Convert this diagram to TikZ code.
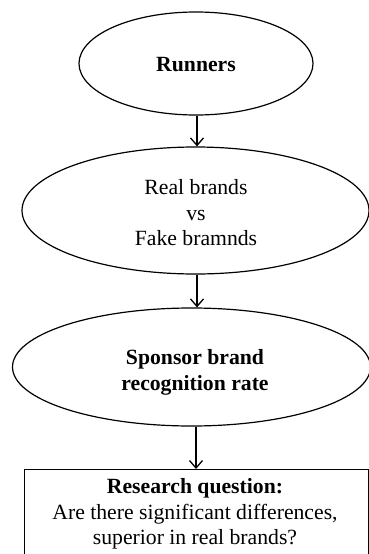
\documentclass[tikz,border=0pt]{standalone}
\usepackage{fontspec}
\setmainfont{Liberation Serif}
\usetikzlibrary{shapes.geometric,arrows.meta}
\begin{document}
\begin{tikzpicture}[x=1pt,y=-1pt,
  oval/.style={ellipse,draw,line width=1.2pt,inner sep=0pt},
  lbl/.style={align=center,font=\fontsize{21.7}{25.5}\selectfont,inner sep=0pt},
  flow/.style={line width=1.3pt,-{Straight Barb[length=7.5pt,width=13pt,line width=1.3pt]}},
  qbox/.style={draw,line width=1.2pt,rectangle,minimum width=344pt,minimum height=100pt,anchor=north,inner sep=0pt}
]
\useasboundingbox (0,0) rectangle (369,554);
\clip (0,0) rectangle (369,554);

% three stages of the study
\node[oval,minimum width=234pt,minimum height=103pt] (e1) at (196,63.5) {};
\node[lbl] (t1) at (196,65) {\bfseries Runners};

\node[oval,minimum width=347pt,minimum height=127pt] (e2) at (195.5,210.5) {};
\node[lbl] (t2) at (196,213) {Real brands\\vs\\Fake bramnds};

\node[oval,minimum width=358pt,minimum height=118pt] (e3) at (191.5,367) {};
\node[lbl,font=\fontsize{21.7}{25.5}\selectfont\bfseries] (t3) at (195,372.5) {Sponsor brand\\recognition rate};

% research question box
\node[qbox] (rq) at (196.5,469) {};
\node[lbl] (t4) at (195,514) {\bfseries Research question:\\Are there significant differences,\\superior in real brands?};

% connectors
\coordinate (a1) at (197,117);
\draw[flow] (e1.south -| a1) -- (e2.north -| a1);
\draw[flow] (e2.south -| a1) -- (e3.north -| a1);
\coordinate (a3) at (196,0);
\draw[flow] (e3.south -| a3) -- (rq.north -| a3);
\end{tikzpicture}
\end{document}
